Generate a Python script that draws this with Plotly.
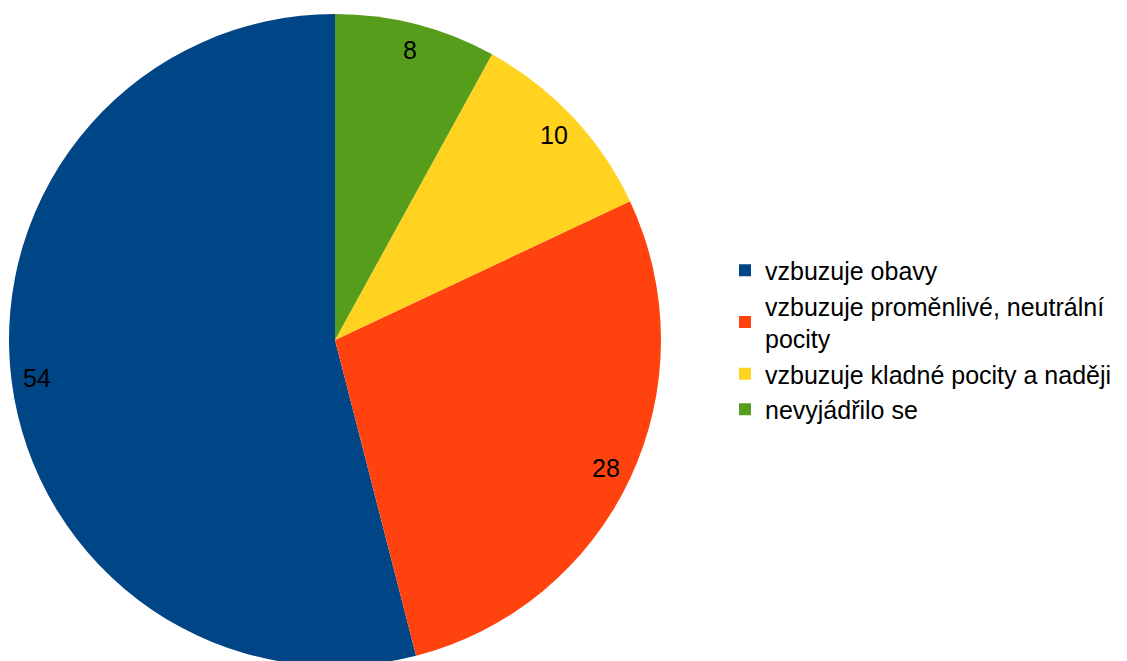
import math
import plotly.graph_objects as go

categories = [
    "vzbuzuje obavy",
    "vzbuzuje proměnlivé, neutrální<br>pocity",
    "vzbuzuje kladné pocity a naději",
    "nevyjádřilo se",
]
values = [54, 28, 10, 8]
colors = ["#004586", "#ff420e", "#ffd320", "#579d1c"]

W, H = 1127, 676
cx, cy, R = 335, 340, 326  # pie centre/radius in px (from top-left)

total = sum(values)

fig = go.Figure()
fig.add_trace(go.Pie(
    labels=categories,
    values=values,
    marker=dict(colors=colors, line=dict(width=0)),
    sort=False,
    direction="counterclockwise",
    # plotly's counterclockwise mode ends the first slice at the rotation angle;
    # shift so the first slice starts at 12 o'clock
    rotation=-values[0] / total * 360,
    textinfo="none",
    hoverinfo="label+value",
    domain=dict(x=[(cx - R) / W, (cx + R) / W], y=[1 - (cy + R) / H, 1 - (cy - R) / H]),
))

# value labels placed at the angular middle of each slice, near the rim
cum = 0
for v in values:
    mid = (cum + v / 2) / total * 2 * math.pi
    cum += v
    rr = 0.92 * R
    px = cx - rr * math.sin(mid)
    py = cy - rr * math.cos(mid)
    fig.add_annotation(
        x=px / W, y=1 - py / H, xref="paper", yref="paper",
        xanchor="center", yanchor="middle",
        text=str(v), showarrow=False,
        font=dict(family="Liberation Sans, Arial, sans-serif", size=25, color="black"),
    )

fig.update_layout(
    width=W, height=H,
    margin=dict(l=0, r=0, t=0, b=0),
    paper_bgcolor="white",
    plot_bgcolor="white",
    font=dict(family="Liberation Sans, Arial, sans-serif", size=25, color="black"),
    legend=dict(
        x=725 / W, xanchor="left",
        y=1 - 340 / H, yanchor="middle",
        font=dict(size=25, color="black"),
        bgcolor="rgba(0,0,0,0)",
    ),
    showlegend=True,
)

fig.write_html(
    "out.html",
    config={"displayModeBar": False},
    post_script="document.body.style.margin='0';document.body.style.overflow='hidden';",
)
